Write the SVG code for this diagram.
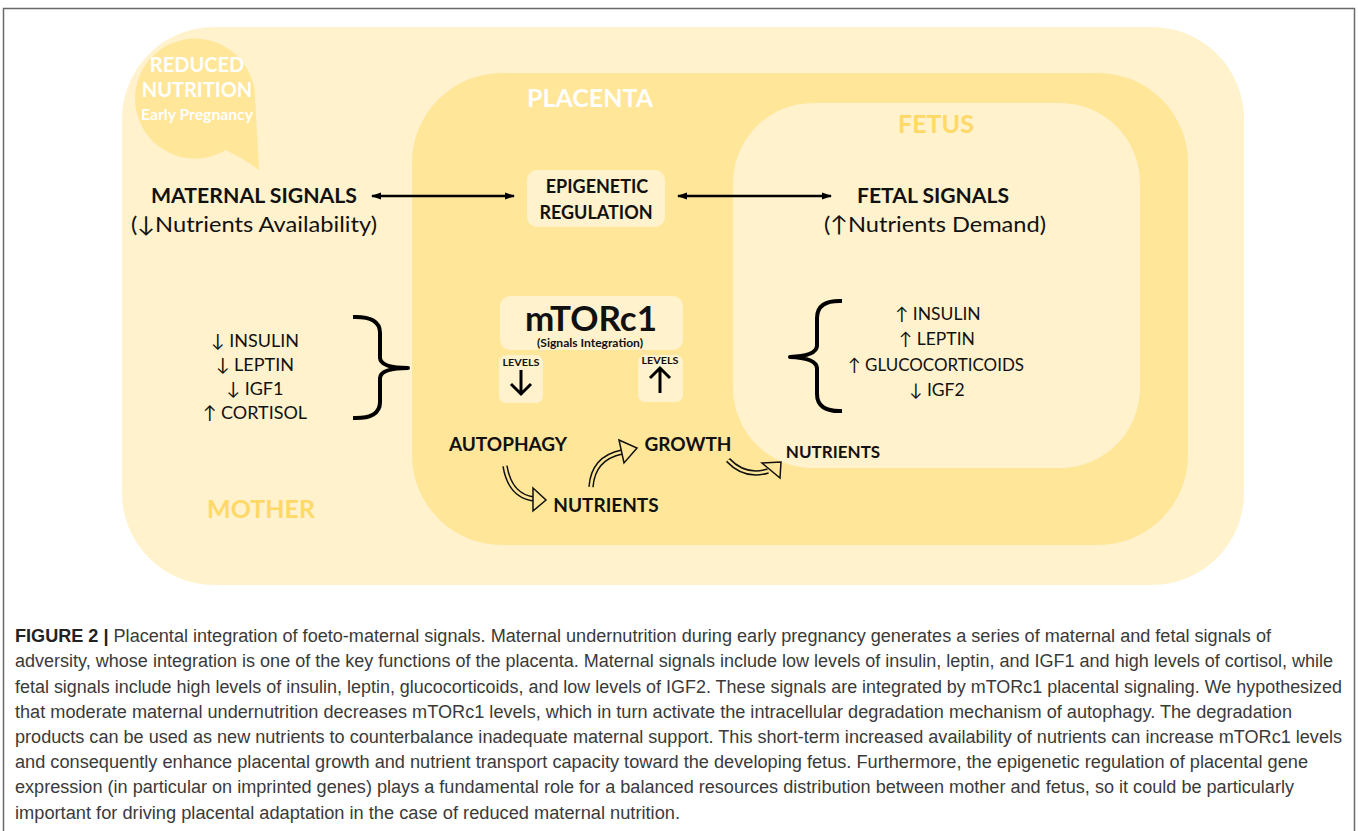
<svg xmlns="http://www.w3.org/2000/svg" width="1358" height="831" viewBox="0 0 1358 831">
<defs>
<style>
.lt{font-family:Lato,"Open Sans","Liberation Sans",sans-serif;}
.b{font-weight:bold;}
.dk{fill:#111;}
.cap{font-family:"Liberation Sans",Arial,sans-serif;font-size:18px;fill:#3a3a3a;}
.hs{fill:none;stroke:#111;stroke-width:5.5;}
.hi{fill:none;stroke:#FFE699;stroke-width:2.5;}
.hh{fill:#FFE699;stroke:#111;stroke-width:1.5;stroke-linejoin:miter;}
.br{fill:none;stroke:#000;stroke-width:4;stroke-linecap:butt;stroke-linejoin:round;}
</style>
<marker id="ah" viewBox="0 0 10 10" refX="9" refY="5" markerWidth="4" markerHeight="4" orient="auto-start-reverse" markerUnits="strokeWidth">
<path d="M0,1.5 L10,5 L0,8.5 z" fill="#000"/>
</marker>
</defs>
<rect x="0" y="0" width="1358" height="831" fill="#fff"/>
<path d="M3.5,831 V8.5 H1354.5 V831" fill="none" stroke="#6a6a6a" stroke-width="1.5"/>

<g id="mother">
<rect x="122" y="27" width="1122" height="558" rx="92" ry="92" fill="#FFF2CC"/>
<text class="lt b" x="261" y="518" font-size="25" fill="#FFD966" text-anchor="middle">MOTHER</text>
</g>
<g id="reduced-nutrition">
<path d="M255,97 A60,60 0 1 0 226,150 Q244,159 259,170 Z" fill="#FFE699"/>
<text class="lt b" x="197" y="72" font-size="20" fill="#fff" text-anchor="middle">REDUCED</text>
<text class="lt b" x="197" y="97" font-size="20" fill="#fff" text-anchor="middle">NUTRITION</text>
<text class="lt b" x="197" y="120" font-size="15" fill="#fff" text-anchor="middle" textLength="112" lengthAdjust="spacingAndGlyphs">Early Pregnancy</text>
</g>
<g id="placenta">
<rect x="412" y="73" width="776" height="472" rx="90" ry="90" fill="#FFE699"/>
<text class="lt b" x="590" y="107" font-size="25" fill="#fff" text-anchor="middle">PLACENTA</text>
</g>
<g id="fetus">
<rect x="733" y="103" width="407" height="365" rx="80" ry="80" fill="#FFF2CC"/>
<text class="lt b" x="936" y="133" font-size="25" fill="#FFD966" text-anchor="middle">FETUS</text>
</g>

<g id="maternal-signals">
<text class="lt b dk" x="254" y="203" font-size="21" text-anchor="middle" textLength="206" lengthAdjust="spacingAndGlyphs">MATERNAL SIGNALS</text>
<text class="lt dk" x="254" y="232" font-size="22" text-anchor="middle" textLength="246" lengthAdjust="spacingAndGlyphs">(↓Nutrients Availability)</text>
</g>
<g id="epigenetic">
<rect x="527" y="170" width="138" height="57" rx="10" fill="#FFF2CC"/>
<text class="lt b dk" x="597" y="193" font-size="18" text-anchor="middle">EPIGENETIC</text>
<text class="lt b dk" x="596" y="219" font-size="18" text-anchor="middle">REGULATION</text>
</g>
<g id="fetal-signals">
<text class="lt b dk" x="933" y="203" font-size="21" text-anchor="middle" textLength="152" lengthAdjust="spacingAndGlyphs">FETAL SIGNALS</text>
<text class="lt dk" x="935" y="232" font-size="22" text-anchor="middle" textLength="222" lengthAdjust="spacingAndGlyphs">(↑Nutrients Demand)</text>
</g>
<g id="mtorc1">
<rect x="500" y="296" width="183" height="54" rx="10" fill="#FFF2CC"/>
<text class="lt b dk" x="591" y="331" font-size="35" text-anchor="middle" textLength="132" lengthAdjust="spacingAndGlyphs">mTORc1</text>
<text class="lt b dk" x="590" y="347" font-size="11" text-anchor="middle" textLength="106" lengthAdjust="spacingAndGlyphs">(Signals Integration)</text>
</g>
<g id="levels-down">
<rect x="499" y="355" width="44" height="48" rx="7" fill="#FFF2CC"/>
<text class="lt b dk" x="521" y="366" font-size="10" text-anchor="middle" textLength="37" lengthAdjust="spacingAndGlyphs">LEVELS</text>
<path d="M521,370 V393 M511,384 L521,394 L531,384" fill="none" stroke="#000" stroke-width="3"/>
</g>
<g id="levels-up">
<rect x="638" y="355" width="45" height="47" rx="7" fill="#FFF2CC"/>
<text class="lt b dk" x="660" y="364" font-size="10" text-anchor="middle" textLength="37" lengthAdjust="spacingAndGlyphs">LEVELS</text>
<path d="M660,393 V369 M650,378 L660,368 L670,378" fill="none" stroke="#000" stroke-width="3"/>
</g>
<g id="maternal-list">
<text class="lt dk" x="255" y="347" font-size="18" text-anchor="middle">↓ INSULIN</text>
<text class="lt dk" x="255" y="371" font-size="18" text-anchor="middle">↓ LEPTIN</text>
<text class="lt dk" x="255" y="395" font-size="18" text-anchor="middle">↓ IGF1</text>
<text class="lt dk" x="255" y="419" font-size="18" text-anchor="middle">↑ CORTISOL</text>
</g>
<g id="fetal-list">
<text class="lt dk" x="938" y="320" font-size="17.5" text-anchor="middle">↑ INSULIN</text>
<text class="lt dk" x="937" y="345" font-size="17.5" text-anchor="middle">↑ LEPTIN</text>
<text class="lt dk" x="936" y="371" font-size="17.5" text-anchor="middle" textLength="176" lengthAdjust="spacingAndGlyphs">↑ GLUCOCORTICOIDS</text>
<text class="lt dk" x="937" y="396" font-size="17.5" text-anchor="middle">↓ IGF2</text>
</g>
<g id="autophagy"><text class="lt b dk" x="508" y="451" font-size="19" text-anchor="middle">AUTOPHAGY</text></g>
<g id="growth"><text class="lt b dk" x="688" y="451" font-size="19" text-anchor="middle">GROWTH</text></g>
<g id="nutrients-placenta"><text class="lt b dk" x="606" y="512" font-size="19" text-anchor="middle">NUTRIENTS</text></g>
<g id="nutrients-fetus"><text class="lt b dk" x="833" y="458" font-size="17" text-anchor="middle">NUTRIENTS</text></g>

<g id="connectors">
<line x1="372" y1="196" x2="514" y2="196" stroke="#000" stroke-width="2.5" marker-start="url(#ah)" marker-end="url(#ah)"/>
<line x1="678" y1="196" x2="831" y2="196" stroke="#000" stroke-width="2.5" marker-start="url(#ah)" marker-end="url(#ah)"/>
<path class="br" d="M353,317 Q380,316 380,333 L380,358 Q381,368 408,368 Q381,368 380,378 L380,402 Q380,419 353,418"/>
<path class="br" d="M842,301 Q817,300 817,318 L817,346 Q816,356 790,357 Q816,358 817,368 L817,394 Q817,412 842,411"/>
<path class="hs" d="M505,466 Q510,496 534,499"/>
<path class="hi" d="M505,466 Q510,496 534,499"/>
<polygon class="hh" points="533,488 546,500 533,511"/>
<path class="hs" d="M591,487 Q593,458 622,452"/>
<path class="hi" d="M591,487 Q593,458 622,452"/>
<polygon class="hh" points="619,440 637,448 624,463"/>
<path class="hs" d="M728,460 Q745,478 768,471"/>
<path class="hi" d="M728,460 Q745,478 768,471"/>
<polygon class="hh" points="762,463 781,462 780,478"/>
</g>

<g id="caption">
<text class="cap" x="15" y="642" textLength="1256" lengthAdjust="spacingAndGlyphs"><tspan font-weight="bold" fill="#222">FIGURE 2 |</tspan> Placental integration of foeto-maternal signals. Maternal undernutrition during early pregnancy generates a series of maternal and fetal signals of</text>
<text class="cap" x="15" y="667" textLength="1318" lengthAdjust="spacingAndGlyphs">adversity, whose integration is one of the key functions of the placenta. Maternal signals include low levels of insulin, leptin, and IGF1 and high levels of cortisol, while</text>
<text class="cap" x="15" y="692.5" textLength="1327" lengthAdjust="spacingAndGlyphs">fetal signals include high levels of insulin, leptin, glucocorticoids, and low levels of IGF2. These signals are integrated by mTORc1 placental signaling. We hypothesized</text>
<text class="cap" x="15" y="718" textLength="1277" lengthAdjust="spacingAndGlyphs">that moderate maternal undernutrition decreases mTORc1 levels, which in turn activate the intracellular degradation mechanism of autophagy. The degradation</text>
<text class="cap" x="15" y="743" textLength="1327" lengthAdjust="spacingAndGlyphs">products can be used as new nutrients to counterbalance inadequate maternal support. This short-term increased availability of nutrients can increase mTORc1 levels</text>
<text class="cap" x="15" y="768" textLength="1293" lengthAdjust="spacingAndGlyphs">and consequently enhance placental growth and nutrient transport capacity toward the developing fetus. Furthermore, the epigenetic regulation of placental gene</text>
<text class="cap" x="15" y="793" textLength="1279" lengthAdjust="spacingAndGlyphs">expression (in particular on imprinted genes) plays a fundamental role for a balanced resources distribution between mother and fetus, so it could be particularly</text>
<text class="cap" x="15" y="818.5" textLength="665" lengthAdjust="spacingAndGlyphs">important for driving placental adaptation in the case of reduced maternal nutrition.</text>
</g>
</svg>
